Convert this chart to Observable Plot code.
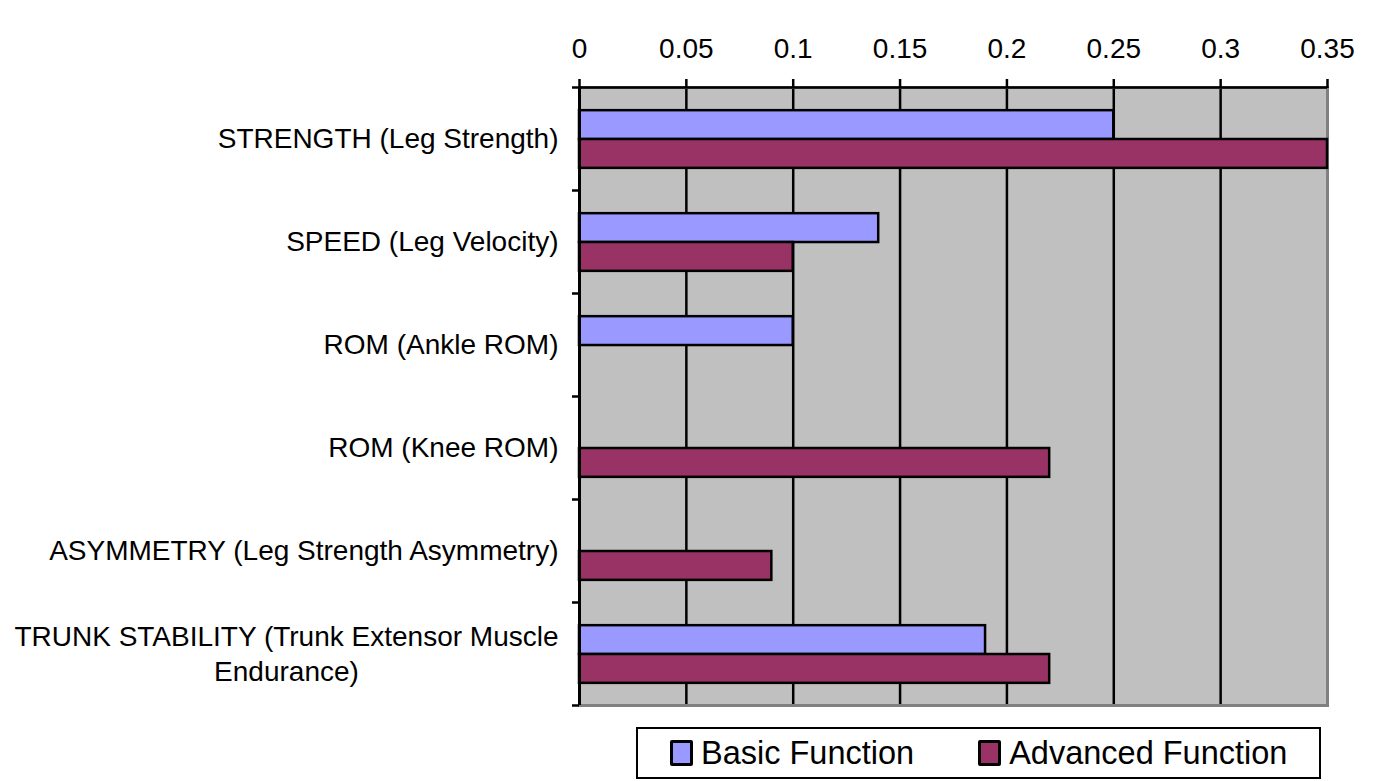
<!DOCTYPE html>
<html>
<head>
<meta charset="utf-8">
<script src="https://cdn.jsdelivr.net/npm/d3@7"></script>
<script src="https://cdn.jsdelivr.net/npm/@observablehq/plot@0.6"></script>
<style>
  body { margin: 0; background: #fff; font-family: "Liberation Sans", Arial, sans-serif; }
  #chart svg { display: block; }
  #legend {
    position: relative; margin-left: 636px; margin-top: 7px; width: 681px; height: 48px;
    border: 2px solid #000; display: flex; align-items: center; box-sizing: content-box;
    font-size: 32.5px; color: #000;
  }
  .sw { width: 17px; height: 20px; border: 3px solid #000; border-radius: 2px; margin-right: 8px; }
  .item { display: flex; align-items: center; }
</style>
</head>
<body>
<div id="chart"></div>
<div id="legend"></div>
<script>
const categories = [
  "STRENGTH (Leg Strength)",
  "SPEED (Leg Velocity)",
  "ROM (Ankle ROM)",
  "ROM (Knee ROM)",
  "ASYMMETRY (Leg Strength Asymmetry)",
  "TRUNK STABILITY (Trunk Extensor Muscle\nEndurance)"
];
const seriesNames = ["Basic Function", "Advanced Function"];
const basic = [0.25, 0.14, 0.10, null, null, 0.19];
const advanced = [0.35, 0.10, null, 0.22, 0.09, 0.22];
const xTicks = [0, 0.05, 0.1, 0.15, 0.2, 0.25, 0.3, 0.35];
const colors = ["#9999ff", "#993366"];

const rows = categories.map((c, i) => ({cat: c, i, basic: basic[i], advanced: advanced[i]}));
const n = categories.length;
const xMax = xTicks[xTicks.length - 1];

const plot = Plot.plot({
  width: 1373,
  height: 720,
  marginTop: 87,
  marginLeft: 579,
  marginRight: 46,
  marginBottom: 15,
  style: {fontFamily: "Liberation Sans, Arial, sans-serif", background: "#fff", color: "#000"},
  x: {type: "linear", domain: [0, xMax], axis: null},
  y: {type: "linear", domain: [0, n], reverse: true, axis: null},
  marks: [
    Plot.frame({fill: "#c0c0c0", stroke: null}),
    Plot.ruleX(xTicks, {stroke: "#000", strokeWidth: 2.5}),
    Plot.frame({stroke: "#808080", strokeWidth: 3, fill: null}),
    Plot.rect(rows.filter(d => d.basic != null), {
      x1: () => 0, x2: "basic", y1: d => d.i + 0.225, y2: d => d.i + 0.505,
      fill: colors[0], stroke: "#000", strokeWidth: 2.5
    }),
    Plot.rect(rows.filter(d => d.advanced != null), {
      x1: () => 0, x2: "advanced", y1: d => d.i + 0.505, y2: d => d.i + 0.785,
      fill: colors[1], stroke: "#000", strokeWidth: 2.5
    }),
    Plot.ruleX([0], {stroke: "#000", strokeWidth: 3}),
    Plot.ruleY([0], {stroke: "#000", strokeWidth: 2.5}),
    Plot.axisX({
      anchor: "top", ticks: xTicks, tickSize: 9, tickPadding: 21,
      tickFormat: d => d3.format("~g")(d), fontSize: 28,
      strokeWidth: 2.5
    }),
    Plot.axisY({
      anchor: "left", ticks: d3.range(n + 1), tickSize: 7, tickFormat: () => "",
      strokeWidth: 2.5
    }),
    Plot.axisY({
      anchor: "left", ticks: d3.range(n).map(i => i + 0.5), tickSize: 0, tickPadding: 21,
      tickFormat: t => categories[Math.floor(t)], fontSize: 28, lineHeight: 1.22,
      lineWidth: 100, dy: -1.5
    })
  ]
});
document.getElementById("chart").appendChild(plot);

// center multi-line category labels on their widest line
plot.querySelectorAll("text").forEach(t => {
  const spans = t.querySelectorAll("tspan");
  if (spans.length > 1) {
    let w = 0;
    spans.forEach(s => { w = Math.max(w, s.getComputedTextLength()); });
    t.setAttribute("text-anchor", "middle");
    spans.forEach(s => s.setAttribute("x", -w / 2));
  }
});

const legend = document.getElementById("legend");
seriesNames.forEach((name, k) => {
  const item = document.createElement("div");
  item.className = "item";
  item.style.marginLeft = k === 0 ? "32px" : "64px";
  const sw = document.createElement("div");
  sw.className = "sw";
  sw.style.background = colors[k];
  const label = document.createElement("span");
  label.textContent = name;
  item.appendChild(sw);
  item.appendChild(label);
  legend.appendChild(item);
});
</script>
</body>
</html>
